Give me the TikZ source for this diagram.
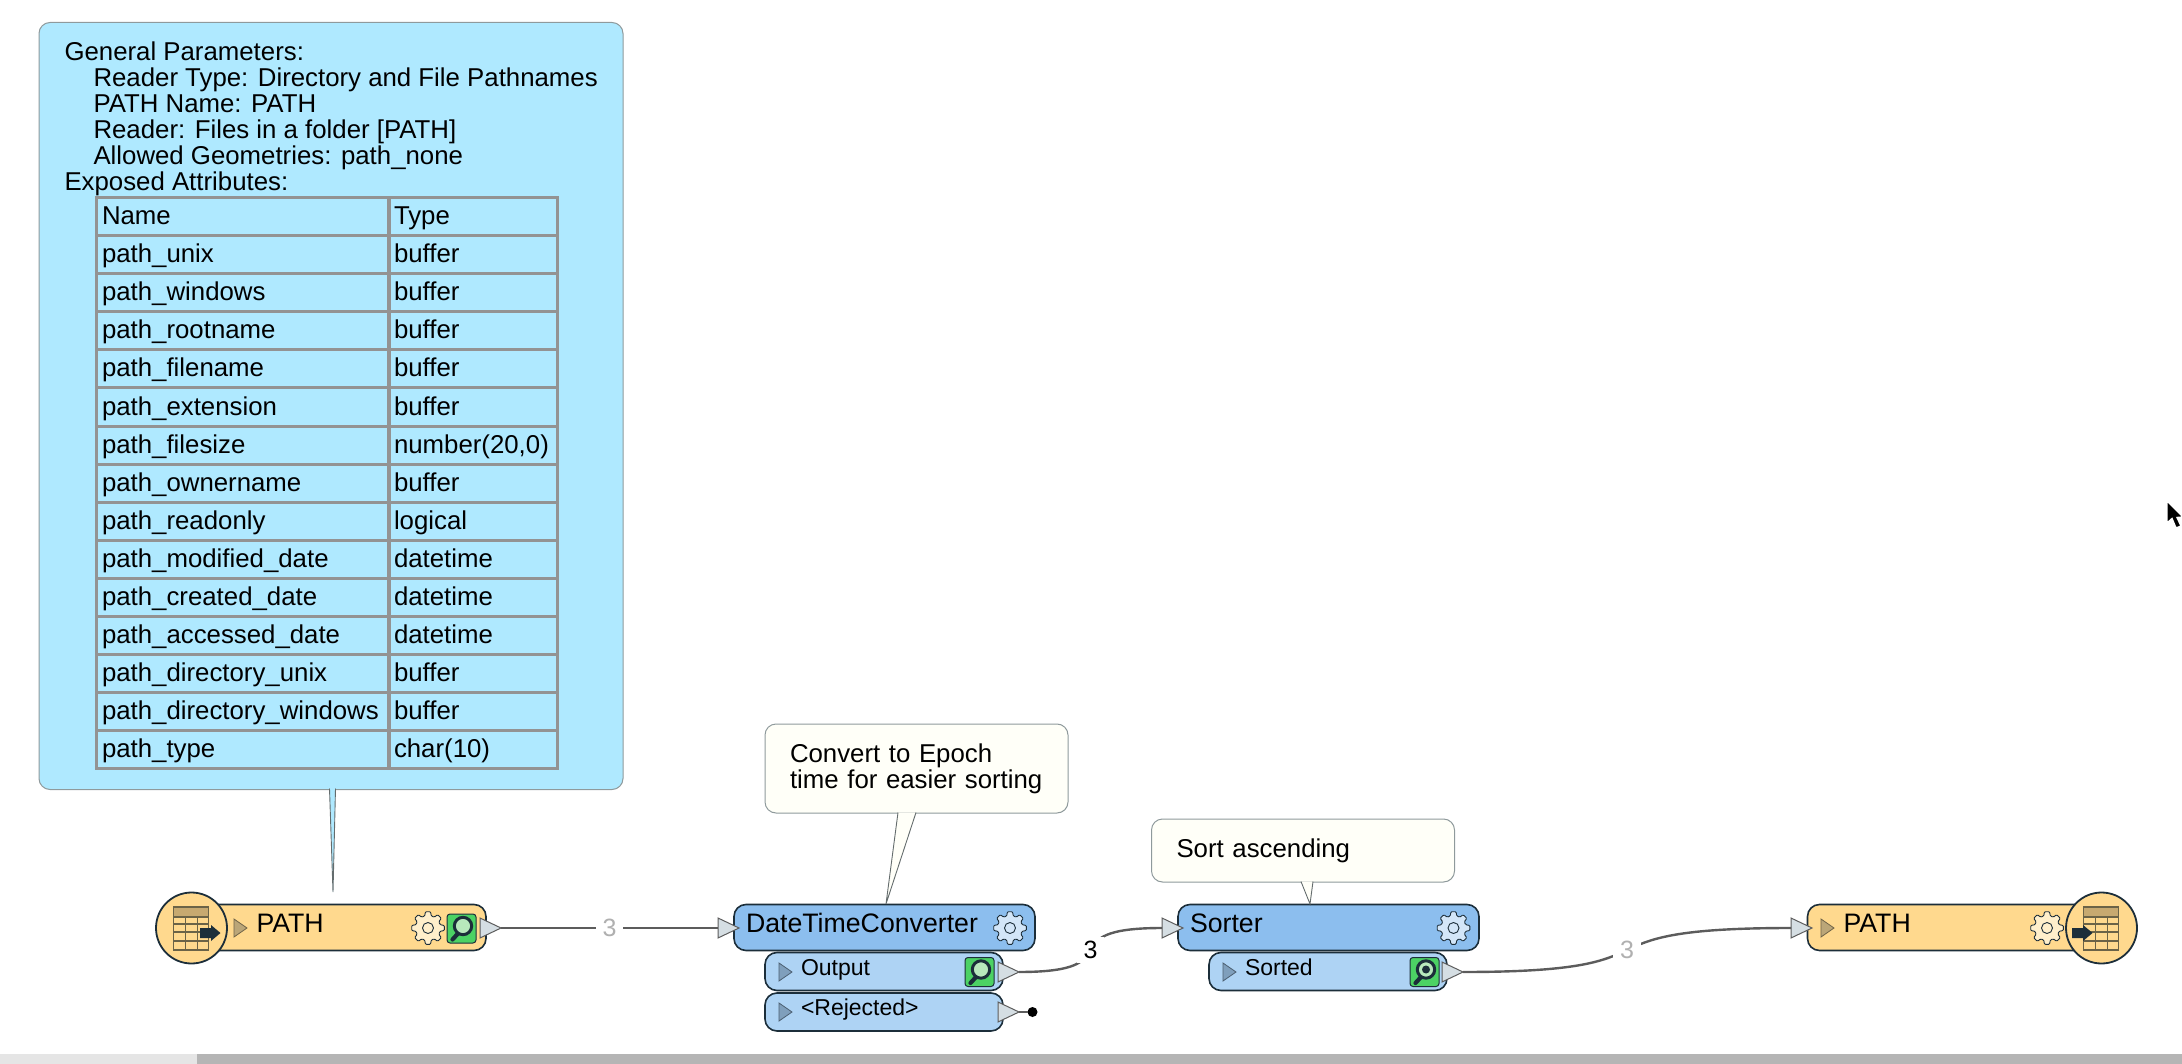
\documentclass[tikz,border=0pt]{standalone}
\usepackage{fontspec}
\setmainfont{Liberation Sans}
\usetikzlibrary{shapes,shapes.geometric,arrows,positioning,calc,arrows.meta}
\definecolor{NodeEdge}{HTML}{1C2E3A}
\definecolor{LinkGray}{HTML}{5C5C5C}
\definecolor{CountGray}{HTML}{B0B0B0}
\definecolor{FormatYellow}{HTML}{FFD98E}
\definecolor{GearYellow}{HTML}{FFEFCB}
\definecolor{MarkYellow}{HTML}{BBA678}
\definecolor{HeadBlue}{HTML}{8CBEEE}
\definecolor{PortBlue}{HTML}{AED3F4}
\definecolor{GearBlue}{HTML}{D3E6F8}
\definecolor{MarkBlue}{HTML}{7F9FBC}
\definecolor{NoteBlue}{HTML}{AFE9FF}
\definecolor{NoteCream}{HTML}{FFFFF8}
\definecolor{NoteEdge}{HTML}{8F9A9C}
\definecolor{TriFill}{HTML}{D5DEE3}
\definecolor{ViewGreen}{HTML}{4CD264}
\definecolor{LensGreen}{HTML}{B8E8BC}
\definecolor{SheetLine}{HTML}{6B6347}
\definecolor{SheetHead}{HTML}{C7A970}
\tikzset{drawing canvas/.style={%
    y=-1pt,%
    x=1pt,%
    every node/.style={%
        inner sep=0pt, outer sep=0pt, font=\fontsize{25.8}{26}\selectfont%
    }%
}}
\tikzset{headbox/.style={%
    draw=NodeEdge, line width=1.6pt, rounded corners=12pt, anchor=west,
    minimum height=46pt, text height=17pt, text depth=8pt, align=left, inner xsep=0pt,
    font=\fontsize{26.7}{26}\selectfont
}}
\tikzset{portbox/.style={%
    draw=NodeEdge, line width=1.6pt, rounded corners=12pt, anchor=west, fill=PortBlue,
    minimum height=38pt, text height=15pt, text depth=8pt, align=left, inner xsep=0pt,
    font=\fontsize{23}{26}\selectfont
}}
\tikzset{notebox/.style={%
    draw=NoteEdge, line width=1pt, fill=#1, rounded corners=11pt, anchor=north west
}}
\tikzset{notetail/.style={%
    draw=NoteEdge!70!black, line width=0.9pt, fill=#1
}}
\tikzset{portarrow/.style={%
    isosceles triangle, isosceles triangle stretches, anchor=lower side,
    draw=LinkGray, line width=1pt, fill=TriFill, minimum width=20pt, minimum height=21pt
}}
\tikzset{markarrow/.style={%
    isosceles triangle, isosceles triangle stretches, anchor=lower side,
    draw=#1!60!black, line width=0.8pt, fill=#1, minimum width=18pt, minimum height=13pt
}}
\tikzset{linkline/.style={%
    draw=LinkGray, line width=2.4pt
}}
\tikzset{countlabel/.style={%
    fill=white, text=#1, inner xsep=7pt, inner ysep=4pt, font=\fontsize{25}{26}\selectfont
}}
\tikzset{tablecell/.style={%
    draw=gray!85, line width=3pt, anchor=north west, minimum height=38pt,
    text width=#1, inner xsep=6pt, text height=19pt, text depth=3pt, align=left
}}
\tikzset{pics/gearicon/.style={code={%
    \draw[line width=0.9pt, draw=NodeEdge, fill=#1, rounded corners=1pt] (-15:12.5)
        \foreach \a in {0,45,...,315} {
            -- ({\a-15}:12.5) -- ({\a-9}:16.5) -- ({\a+9}:16.5) -- ({\a+15}:12.5)
        } -- cycle;
    \draw[line width=0.9pt, draw=NodeEdge, fill=#1] (0,0) circle (5.5);
}}}
\tikzset{pics/viewicon/.style={code={%
    \draw[line width=1pt, draw=NodeEdge, fill=ViewGreen, rounded corners=3pt] (-14.5,-14.5) rectangle (14.5,14.5);
    \draw[line width=4.2pt, draw=NodeEdge, line cap=round] (-3.5,5) -- (-9,11);
    \draw[line width=3pt, draw=NodeEdge, fill=LensGreen] (1.5,-2.5) circle (8.7);
    \ifnum#1=1 \fill[NodeEdge] (1.5,-2.5) circle (4); \fi
}}}
\tikzset{pics/sheeticon/.style={code={%
    \fill[FormatYellow] (-18,-21) rectangle (17,22);
    \fill[SheetHead] (-18,-21) rectangle (17,-11);
    \draw[line width=1.6pt, draw=SheetLine] (-18,-21) rectangle (17,22);
    \foreach \ry in {-11,-4,4,13} {
        \draw[line width=1.6pt, draw=SheetLine] (-18,\ry) -- (17,\ry);
    }
    \foreach \rx in {-6,6} {
        \draw[line width=1.6pt, draw=SheetLine] (\rx,-11) -- (\rx,22);
    }
    \fill[NodeEdge] (#1,0) -- ++(11,0) -- ++(0,-3) -- ++(9.5,8) -- ++(-9.5,8) -- ++(0,-3) -- ++(-11,0) -- cycle;
}}}
\begin{document}
\begin{tikzpicture}[drawing canvas]
    \useasboundingbox (0,0) rectangle (2182,1064);

    % parameters
    \node[notebox=NoteBlue, minimum width=584pt, minimum height=767pt] (paramnote) at (39,22.5) {};
    \coordinate (paramtip) at (333,892);
    \filldraw[notetail=NoteBlue] (329.5,788.5) -- (paramtip) -- (335.5,788.5);
    \node[anchor=north west, align=left] (paramtext) at (64.5,42) {General Parameters:\\
        \hspace*{29pt}Reader Type: Directory and File Pathnames\\
        \hspace*{29pt}PATH Name: PATH\\
        \hspace*{29pt}Reader: Files in a folder [PATH]\\
        \hspace*{29pt}Allowed Geometries: path\_none\\
        Exposed Attributes:};
    \foreach \attrname/\attrtype [count=\r from 0] in {Name/Type,path\_unix/buffer,path\_windows/buffer,
        path\_rootname/buffer,path\_filename/buffer,path\_extension/buffer,path\_filesize/{number(20,0)},
        path\_ownername/buffer,path\_readonly/logical,path\_modified\_date/datetime,path\_created\_date/datetime,
        path\_accessed\_date/datetime,path\_directory\_unix/buffer,path\_directory\_windows/buffer,path\_type/char(10)} {
        \node[tablecell=281pt] (name\r) at (96,{198+38*\r}) {\attrname};
        \node[tablecell=157pt] (type\r) at (388,{198+38*\r}) {\attrtype};
    }

    % source
    \node[headbox, fill=FormatYellow, minimum width=286pt, text width=286pt] (readerbar) at (200,927.5) {\hspace*{56.5pt}PATH};
    \node[circle, draw=NodeEdge, line width=1.8pt, fill=FormatYellow, minimum size=71pt] (readerdisc) at (191.5,928) {};
    \pic at (readerdisc.center) {sheeticon=8.5};
    \node[markarrow=MarkYellow] (readermark) at (234,928) {};
    \pic at (428,928) {gearicon=GearYellow};
    \pic at (461.5,928.5) {viewicon=0};
    \node[portarrow] (readerport) at (480,928) {};

    % converter
    \node[headbox, fill=HeadBlue, minimum width=301pt, text width=301pt] (dtcbar) at (734,927.5) {\hspace*{12pt}DateTimeConverter};
    \node[portbox, minimum width=238pt, text width=238pt] (dtcoutput) at (765,971.5) {\hspace*{36pt}Output};
    \node[portbox, minimum width=238pt, text width=238pt] (dtcrejected) at (765,1012) {\hspace*{36pt}<Rejected>};
    \node[markarrow=MarkBlue] (dtcoutmark) at (779,972) {};
    \node[markarrow=MarkBlue] (dtcrejmark) at (779,1012) {};
    \node[portarrow] (dtcin) at (718,928) {};
    \node[portarrow] (dtcoutport) at (998,972) {};
    \node[portarrow] (dtcrejport) at (998,1012) {};
    \node[circle, fill=black, minimum size=10pt] (rejdot) at (1032.5,1012) {};
    \pic at (1010,928) {gearicon=GearBlue};
    \pic at (979.5,972) {viewicon=0};
    \draw[line width=1.2pt, draw=LinkGray] (dtcrejport.apex) -- (rejdot);

    % sorter
    \node[headbox, fill=HeadBlue, minimum width=301pt, text width=301pt] (sorterbar) at (1178,927.5) {\hspace*{12pt}Sorter};
    \node[portbox, minimum width=238pt, text width=238pt] (sorteroutput) at (1209,971.5) {\hspace*{36pt}Sorted};
    \node[markarrow=MarkBlue] (sortermark) at (1223,972) {};
    \node[portarrow] (sorterin) at (1162,928) {};
    \node[portarrow] (sorterport) at (1442,972) {};
    \pic at (1453.5,928) {gearicon=GearBlue};
    \pic at (1424.5,972) {viewicon=1};

    % destination
    \node[headbox, fill=FormatYellow, minimum width=283pt, text width=283pt] (writerbar) at (1807.5,927.5) {\hspace*{36pt}PATH};
    \node[circle, draw=NodeEdge, line width=1.8pt, fill=FormatYellow, minimum size=71pt] (writerdisc) at (2101.5,928) {};
    \pic at (writerdisc.center) {sheeticon=-29.5};
    \node[markarrow=MarkYellow] (writermark) at (1821,928) {};
    \node[portarrow] (writerin) at (1791,928) {};
    \pic at (2047,928) {gearicon=GearYellow};

    % links
    \draw[linkline] (readerport.apex) -- node[countlabel=CountGray] (count1) {3} (dtcin.west);
    \draw[linkline] (dtcoutport.apex) to[out=0, in=180, looseness=2] node[countlabel=black] (count2) {3} (sorterin.west);
    \draw[linkline] (sorterport.apex) to[out=0, in=180, looseness=1.8] node[countlabel=CountGray] (count3) {3} (writerin.west);

    % annotations
    \node[notebox=NoteCream, minimum width=303pt, minimum height=89pt, text width=253pt, align=left] (dtcnote) at (765,724) {Convert to Epoch\\time for easier sorting};
    \coordinate (dtctip) at (886,904);
    \filldraw[notetail=NoteCream] (898,812.5) -- (dtctip) -- (916,812.5);
    \node[notebox=NoteCream, minimum width=303pt, minimum height=63pt, text width=253pt, align=left] (sorternote) at (1151.5,819) {Sort ascending};
    \coordinate (sortertip) at (1310,904);
    \filldraw[notetail=NoteCream] (1301,881.5) -- (sortertip) -- (1313,881.5);

    % window
    \fill[black!29] (197,1054) rectangle (2182,1064);
    \fill[black!10] (0,1054) rectangle (197,1064);
    \filldraw[draw=white, line width=1.4pt, fill=black] (2167,501) -- (2167,523) -- (2172,518.5) -- (2176,528) -- (2181,526) -- (2177,517.5) -- (2183,517) -- cycle;
\end{tikzpicture}
\end{document}
